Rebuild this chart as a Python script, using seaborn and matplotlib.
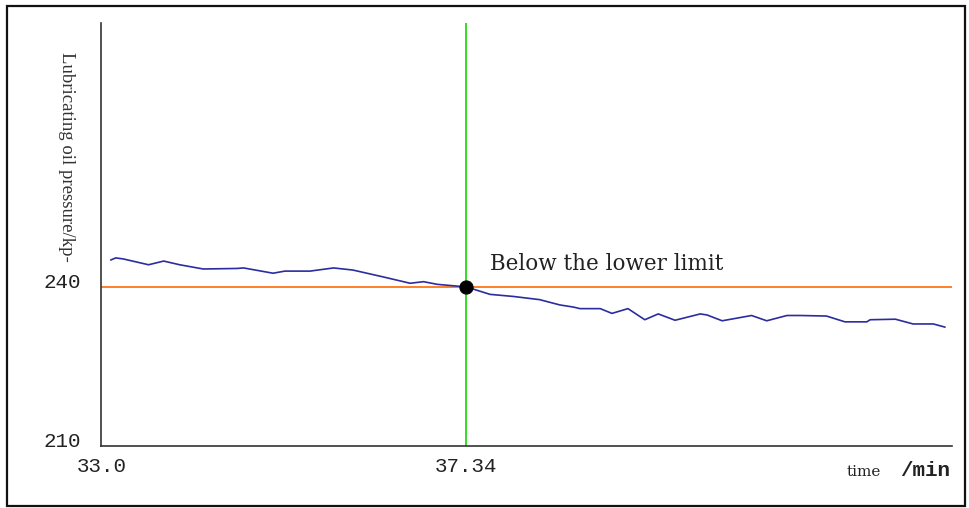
import matplotlib
matplotlib.use("Agg")
import matplotlib.pyplot as plt
import matplotlib.transforms as mtransforms
from matplotlib.patches import Rectangle
import seaborn as sns
import pandas as pd

# Lubricating oil pressure trace (time in min, pressure in kPa)
time_min = [33.11, 33.17, 33.26, 33.56, 33.74, 33.93, 34.21, 34.61, 34.69,
            35.04, 35.18, 35.48, 35.76, 35.99, 36.35, 36.67, 36.83, 36.99,
            37.34, 37.62, 37.90, 38.21, 38.45, 38.61, 38.69, 38.93, 39.07,
            39.26, 39.46, 39.62, 39.82, 40.12, 40.20, 40.38, 40.59, 40.73,
            40.91, 41.15, 41.31, 41.62, 41.84, 42.10, 42.14, 42.44, 42.65,
            42.89, 43.03]
pressure = [245.1, 245.5, 245.3, 244.2, 244.9, 244.2, 243.4, 243.5, 243.6,
            242.6, 243.0, 243.0, 243.6, 243.2, 241.9, 240.7, 241.0, 240.5,
            240.0, 238.6, 238.2, 237.6, 236.6, 236.2, 235.9, 235.9, 235.0,
            235.9, 233.8, 234.9, 233.7, 234.9, 234.7, 233.6, 234.2, 234.6,
            233.6, 234.6, 234.6, 234.5, 233.4, 233.4, 233.8, 233.9, 233.0,
            233.0, 232.4]

lower_limit = 240
alarm_time = 37.34
y_ticks = [210, 240, 270]
y_tick_labels = ["210", "240", ""]
x_ticks = [33.0, 37.34]
x_tick_labels = ["33.0", "37.34"]
annotation = "Below the lower limit"
y_label = "Lubricating oil pressure/kp-"

df = pd.DataFrame({"time": time_min, "pressure": pressure})

sns.set_theme(style="white")
plt.rcParams["font.family"] = ["Liberation Serif", "DejaVu Serif"]

fig = plt.figure(figsize=(9.7, 5.08), dpi=100)
ax = fig.add_axes([0.1046, 0.1230, 0.9812 - 0.1046, 0.9553 - 0.1230])

# limit and alarm markers
ax.axhline(lower_limit, color="#ff7f2a", linewidth=1.4, zorder=2)
ax.axvline(alarm_time, color="#33dd22", linewidth=1.4, zorder=2)

sns.lineplot(data=df, x="time", y="pressure", ax=ax, color="#2c2ca0",
             linewidth=1.2, zorder=3)
sns.scatterplot(x=[alarm_time], y=[lower_limit], ax=ax, color="black",
                s=90, edgecolor="black", zorder=4)

ax.text(37.62, 244.3, annotation, fontsize=15.5, color="#222222",
        va="center", ha="left", family=["DejaVu Serif"])

ax.set_xlim(33.0, 43.11)
ax.set_ylim(210, 290)

ax.set_xticks(x_ticks)
ax.set_xticklabels(x_tick_labels, family=["Liberation Mono"], fontsize=15,
                   color="#222222")
ax.set_yticks(y_ticks)
ax.set_yticklabels(y_tick_labels, family=["Liberation Mono"], fontsize=15,
                   color="#222222")
ax.tick_params(axis="x", length=0, pad=8)
ax.tick_params(axis="y", direction="in", length=8, width=1, color="#333333",
               pad=15)
# lift the y labels slightly above their ticks
lift = mtransforms.ScaledTranslation(0, 6 / 100, fig.dpi_scale_trans)
for lbl in ax.get_yticklabels():
    lbl.set_transform(lbl.get_transform() + lift)

ax.set_xlabel("")
ax.set_ylabel("")
for side in ("top", "right"):
    ax.spines[side].set_visible(False)
for side in ("left", "bottom"):
    ax.spines[side].set_color("#333333")
    ax.spines[side].set_linewidth(1.2)

fig.text(66 / 970, 1 - 157 / 508, y_label, rotation=270, fontsize=13.5,
         ha="center", va="center", color="#333333",
         family=["Liberation Serif"])
fig.text(864 / 970, 1 - 472 / 508, "time", fontsize=11, ha="center",
         va="center", color="#222222", family=["DejaVu Serif"])
fig.text(925 / 970, 1 - 470 / 508, "/min", fontsize=15, ha="center",
         va="center", color="#222222", family=["Liberation Mono"],
         weight="bold")

# outer frame
fig.patches.append(Rectangle((7 / 970, 1 - 506 / 508),
                             (965 - 7) / 970, (506 - 6) / 508,
                             transform=fig.transFigure, fill=False,
                             edgecolor="#111111", linewidth=1.6))

fig.savefig("out.png", dpi=100)
